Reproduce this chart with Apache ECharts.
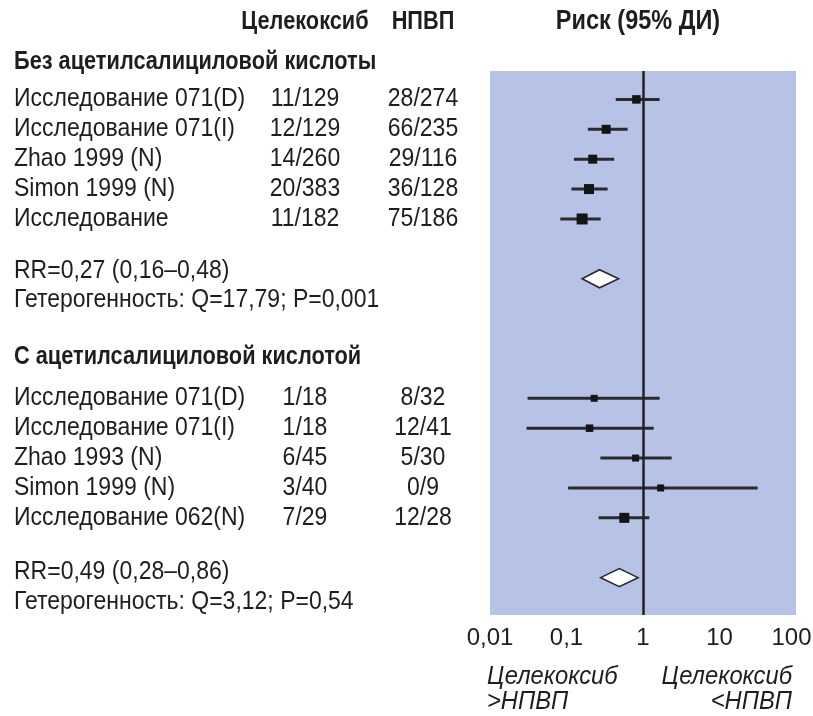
<!DOCTYPE html>
<html>
<head>
<meta charset="utf-8">
<script src="https://cdn.jsdelivr.net/npm/echarts@6/dist/echarts.min.js"></script>
<style>
html,body{margin:0;padding:0;background:#fff;}
#chart{width:813px;height:716px;}
</style>
</head>
<body>
<div id="chart"></div>
<script>
// ---------- DATA ----------
const colHeaders = ['Целекоксиб', 'НПВП', 'Риск (95% ДИ)'];
const groupTitles = ['Без ацетилсалициловой кислоты', 'С ацетилсалициловой кислотой'];

const studies1 = ['Исследование 071(D)', 'Исследование 071(I)', 'Zhao 1999 (N)', 'Simon 1999 (N)', 'Исследование'];
const celecoxib1 = ['11/129', '12/129', '14/260', '20/383', '11/182'];
const nsaid1 = ['28/274', '66/235', '29/116', '36/128', '75/186'];
const rr1 = [0.82, 0.33, 0.22, 0.197, 0.16];
const low1 = [0.44, 0.19, 0.125, 0.116, 0.083];
const high1 = [1.65, 0.63, 0.42, 0.345, 0.28];
const weight1 = [8.5, 9, 9, 10, 11];
const pooled1 = [0.27, 0.16, 0.48];
const pooledText1 = ['RR=0,27 (0,16–0,48)', 'Гетерогенность: Q=17,79; P=0,001'];

const studies2 = ['Исследование 071(D)', 'Исследование 071(I)', 'Zhao 1993 (N)', 'Simon 1999 (N)', 'Исследование 062(N)'];
const celecoxib2 = ['1/18', '1/18', '6/45', '3/40', '7/29'];
const nsaid2 = ['8/32', '12/41', '5/30', '0/9', '12/28'];
const rr2 = [0.23, 0.20, 0.80, 1.70, 0.57];
const low2 = [0.031, 0.030, 0.277, 0.105, 0.263];
const high2 = [1.65, 1.38, 2.37, 31.5, 1.21];
const weight2 = [7, 7.5, 7, 7, 10];
const pooled2 = [0.49, 0.28, 0.86];
const pooledText2 = ['RR=0,49 (0,28–0,86)', 'Гетерогенность: Q=3,12; P=0,54'];

const xTickLabels = ['0,01', '0,1', '1', '10', '100'];
const footLeft = ['Целекоксиб', '>НПВП'];
const footRight = ['Целекоксиб', '<НПВП'];

// row order in the plot (blank strings are empty rows)
const rowLayout = ['a0', 'a1', 'a2', 'a3', 'a4', '', 'aPool', '', '', '', 'b0', 'b1', 'b2', 'b3', 'b4', '', 'bPool'];

// ---------- BUILD ----------
const FONT = "'Liberation Sans', Arial, sans-serif";
const TXT = '#1e1e1e';

function studyData(rr, lo, hi, w, prefix) {
  return rr.map((v, i) => [v, lo[i], hi[i], rowLayout.indexOf(prefix + i), w[i]]);
}
const ciData = studyData(rr1, low1, high1, weight1, 'a').concat(studyData(rr2, low2, high2, weight2, 'b'));
const poolData = [
  [pooled1[0], pooled1[1], pooled1[2], rowLayout.indexOf('aPool')],
  [pooled2[0], pooled2[1], pooled2[2], rowLayout.indexOf('bPool')]
];

const chart = echarts.init(document.getElementById('chart'), null, {renderer: 'canvas'});

const option = {
  animation: false,
  backgroundColor: '#fff',
  grid: {
    left: 490, right: 17, top: 71, bottom: 101,
    containLabel: false, outerBoundsMode: 'none',
    show: true, backgroundColor: '#b7c3e6', borderWidth: 0
  },
  xAxis: {
    type: 'log', logBase: 10, min: 0.01, max: 100,
    axisLine: {show: false}, axisTick: {show: false}, splitLine: {show: false},
    axisLabel: {
      margin: 11, color: TXT, fontFamily: FONT, fontSize: 24,
      formatter: (v, i) => {
        const t = xTickLabels[i];
        if (t === undefined) return '';
        return i === xTickLabels.length - 1 ? '{last|' + t + '}' : t;
      },
      rich: {
        last: {fontFamily: FONT, fontSize: 24, color: TXT, padding: [0, 9, 0, 0]}
      }
    }
  },
  yAxis: {
    type: 'value', inverse: true, min: -0.95, max: 17.25, show: false
  },
  series: [
    {
      type: 'custom',
      data: ciData,
      encode: {x: [0, 1, 2], y: 3},
      renderItem: function (params, api) {
        const y = api.value(3);
        const pLo = api.coord([api.value(1), y]);
        const pHi = api.coord([api.value(2), y]);
        const pM = api.coord([api.value(0), y]);
        const s = api.value(4);
        return {
          type: 'group',
          children: [
            {type: 'line', shape: {x1: pLo[0], y1: pLo[1], x2: pHi[0], y2: pHi[1]}, style: {stroke: '#2a2a2a', lineWidth: 3}},
            {type: 'rect', shape: {x: pM[0] - s / 2, y: pM[1] - s / 2, width: s, height: s}, style: {fill: '#141414'}}
          ]
        };
      },
      markLine: {
        silent: true, symbol: 'none', label: {show: false},
        lineStyle: {color: '#222', width: 2.5, type: 'solid'},
        data: [{xAxis: 1}]
      },
      z: 3
    },
    {
      type: 'custom',
      data: poolData,
      encode: {x: [0, 1, 2], y: 3},
      renderItem: function (params, api) {
        const y = api.value(3);
        const pLo = api.coord([api.value(1), y]);
        const pHi = api.coord([api.value(2), y]);
        const pM = api.coord([api.value(0), y]);
        const h = 9;
        return {
          type: 'polygon',
          shape: {points: [[pLo[0], pLo[1]], [pM[0], pM[1] - h], [pHi[0], pHi[1]], [pM[0], pM[1] + h]]},
          style: {fill: '#fff', stroke: '#2a2a2a', lineWidth: 1.6}
        };
      },
      z: 4
    }
  ]
};
chart.setOption(option);

// ---------- TEXT TABLE ----------
const gfx = [];
function txt(x, y, s, opts) {
  opts = opts || {};
  const sx = opts.bold ? 0.87 : (opts.italic ? 0.95 : 0.92);
  gfx.push({
    type: 'text', x: x, y: y, scaleX: sx, silent: true,
    style: {
      text: s, fill: TXT, fontFamily: FONT,
      fontSize: opts.size || 25,
      fontWeight: opts.bold ? 'bold' : 'normal',
      fontStyle: opts.italic ? 'italic' : 'normal',
      align: opts.align || 'left', verticalAlign: 'middle'
    }
  });
}
const X_NAME = 14, X_CEL = 305, X_NSAID = 423;
const rowY = key => chart.convertToPixel({yAxisIndex: 0}, rowLayout.indexOf(key));

txt(X_CEL, 22, colHeaders[0], {bold: true, align: 'center'});
txt(X_NSAID, 22, colHeaders[1], {bold: true, align: 'center'});
txt(638, 22, colHeaders[2], {bold: true, align: 'center', size: 27});

txt(X_NAME, 62, groupTitles[0], {bold: true});
studies1.forEach((s, i) => {
  const y = rowY('a' + i);
  txt(X_NAME, y, s);
  txt(X_CEL, y, celecoxib1[i], {align: 'center'});
  txt(X_NSAID, y, nsaid1[i], {align: 'center'});
});
txt(X_NAME, 271, pooledText1[0]);
txt(X_NAME, 300, pooledText1[1]);

txt(X_NAME, 357, groupTitles[1], {bold: true});
studies2.forEach((s, i) => {
  const y = rowY('b' + i);
  txt(X_NAME, y, s);
  txt(X_CEL, y, celecoxib2[i], {align: 'center'});
  txt(X_NSAID, y, nsaid2[i], {align: 'center'});
});
txt(X_NAME, 572, pooledText2[0]);
txt(X_NAME, 602, pooledText2[1]);

txt(487, 677, footLeft[0], {italic: true});
txt(487, 702, footLeft[1], {italic: true});
txt(792, 677, footRight[0], {italic: true, align: 'right'});
txt(792, 702, footRight[1], {italic: true, align: 'right'});

chart.setOption({graphic: gfx});
</script>
</body>
</html>
